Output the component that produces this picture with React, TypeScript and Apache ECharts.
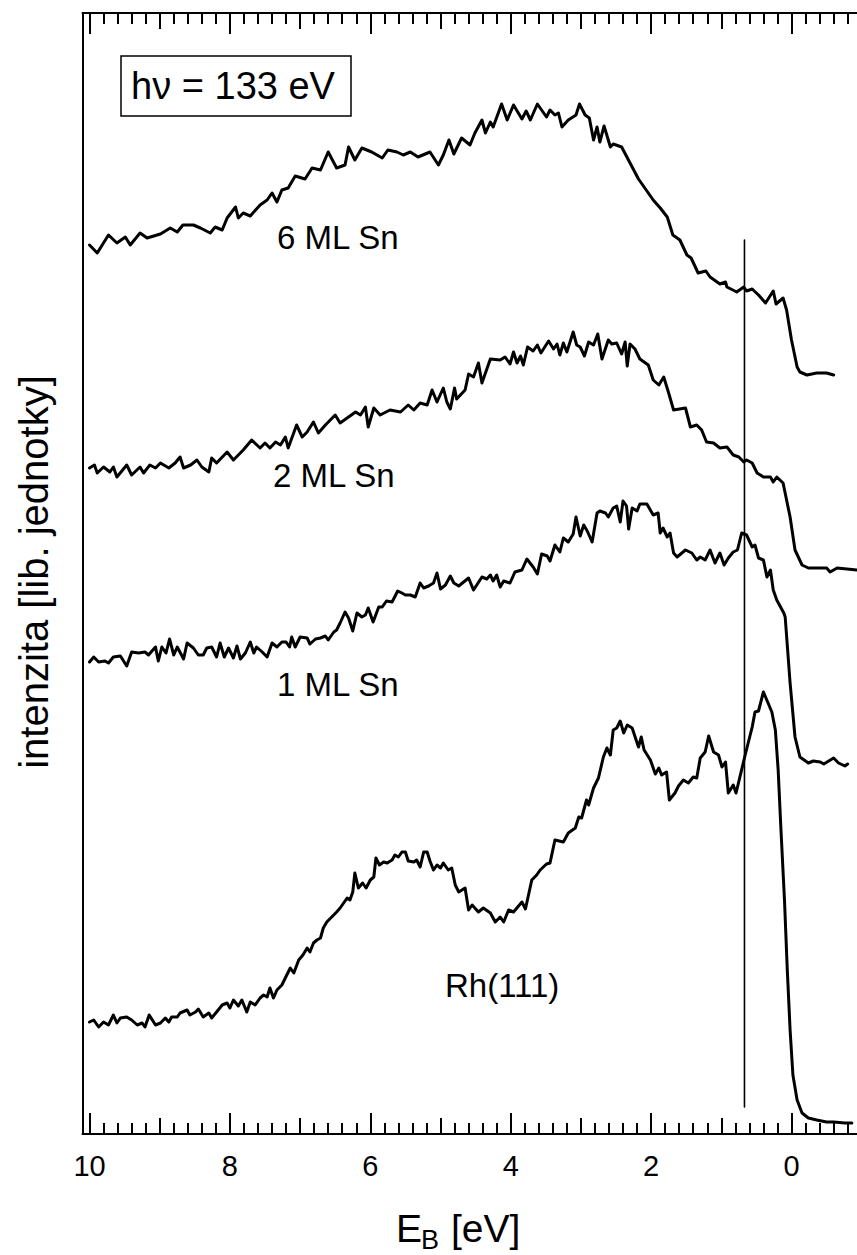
import React, { useEffect, useRef } from "react";
import * as echarts from "echarts";

// Binding energy E_B [eV] vs. intensity (arb. units, curves already offset as plotted)
const sn6ML: [number, number][] = [
  [10.0, 88.9], [9.89, 88.1], [9.73, 89.9], [9.61, 89.1], [9.49, 89.7], [9.42, 88.9], [9.28, 90.1], [9.18, 89.6],
  [8.99, 90.0], [8.85, 90.6], [8.75, 90.2], [8.67, 90.9], [8.52, 90.9], [8.42, 90.6], [8.28, 90.1], [8.21, 90.7],
  [8.11, 90.4], [8.04, 91.6], [7.92, 92.7], [7.88, 91.6], [7.81, 92.1], [7.71, 91.8], [7.57, 92.9], [7.47, 93.4],
  [7.4, 94.1], [7.33, 93.2], [7.26, 94.4], [7.17, 94.6], [7.07, 95.8], [6.93, 95.5], [6.83, 96.6], [6.71, 96.4],
  [6.6, 98.2], [6.48, 96.6], [6.36, 96.9], [6.31, 98.7], [6.22, 97.4], [6.12, 98.6], [5.98, 98.2], [5.83, 97.6],
  [5.75, 98.4], [5.62, 98.2], [5.53, 97.9], [5.43, 98.2], [5.32, 97.7], [5.15, 98.2], [5.03, 96.9], [4.96, 97.9],
  [4.88, 99.4], [4.81, 98.0], [4.7, 99.6], [4.58, 98.9], [4.51, 100.1], [4.41, 101.4], [4.36, 100.1], [4.29, 101.2],
  [4.25, 100.7], [4.13, 103.0], [4.05, 101.4], [3.96, 102.9], [3.84, 101.5], [3.78, 102.3], [3.72, 101.4], [3.62, 103.0],
  [3.49, 101.7], [3.44, 102.4], [3.37, 101.9], [3.32, 102.1], [3.27, 100.7], [3.18, 101.4], [3.07, 101.9], [3.02, 103.0],
  [2.94, 101.9], [2.88, 101.6], [2.82, 99.4], [2.77, 100.7], [2.73, 99.2], [2.67, 100.8], [2.58, 98.7], [2.54, 99.0],
  [2.42, 98.7], [2.3, 97.1], [2.18, 95.5], [2.07, 94.4], [1.97, 93.4], [1.87, 92.6], [1.77, 91.7], [1.69, 89.9],
  [1.59, 89.4], [1.49, 87.9], [1.43, 87.6], [1.33, 86.1], [1.22, 86.3], [1.16, 85.7], [1.02, 85.0], [0.94, 85.2],
  [0.92, 84.7], [0.78, 84.2], [0.68, 84.7], [0.64, 84.3], [0.56, 84.5], [0.47, 83.9], [0.37, 83.1], [0.26, 84.3],
  [0.22, 83.0], [0.12, 83.6], [0.07, 82.4], [0.0, 79.4], [-0.08, 76.7], [-0.12, 76.2], [-0.22, 75.9], [-0.36, 76.1],
  [-0.5, 76.1], [-0.6, 75.9],
];

const sn2ML: [number, number][] = [
  [10.0, 66.6], [9.93, 66.9], [9.89, 66.1], [9.8, 66.7], [9.71, 66.2], [9.66, 66.7], [9.61, 65.7], [9.47, 66.9],
  [9.4, 65.9], [9.28, 66.7], [9.23, 66.1], [9.14, 66.9], [9.06, 66.6], [8.99, 67.1], [8.87, 66.6], [8.78, 67.1],
  [8.71, 67.7], [8.66, 66.6], [8.56, 66.9], [8.47, 67.4], [8.4, 66.7], [8.3, 66.2], [8.26, 67.6], [8.19, 67.1],
  [8.04, 68.2], [7.95, 67.4], [7.81, 68.4], [7.69, 69.4], [7.57, 68.6], [7.5, 69.1], [7.43, 68.6], [7.35, 69.2],
  [7.28, 68.9], [7.21, 69.7], [7.17, 68.6], [7.05, 70.9], [6.97, 69.7], [6.9, 70.2], [6.81, 71.2], [6.74, 70.1],
  [6.64, 70.9], [6.57, 71.4], [6.5, 71.9], [6.43, 71.1], [6.33, 71.6], [6.21, 72.2], [6.14, 71.9], [6.07, 72.7],
  [6.03, 70.7], [5.95, 72.6], [5.86, 71.9], [5.72, 72.4], [5.57, 72.2], [5.46, 72.9], [5.38, 72.4], [5.29, 73.1],
  [5.19, 72.9], [5.12, 74.4], [5.05, 73.2], [4.96, 74.6], [4.91, 73.2], [4.86, 72.5], [4.8, 74.6], [4.77, 73.5],
  [4.65, 74.4], [4.6, 76.0], [4.53, 75.7], [4.46, 77.1], [4.41, 75.1], [4.29, 77.5], [4.15, 77.4], [4.08, 77.7],
  [4.01, 77.0], [3.96, 78.2], [3.91, 77.1], [3.86, 77.8], [3.82, 76.9], [3.76, 78.7], [3.68, 78.3], [3.62, 78.9],
  [3.57, 78.1], [3.46, 79.3], [3.39, 78.5], [3.34, 79.0], [3.3, 77.9], [3.25, 79.1], [3.2, 78.2], [3.11, 80.2],
  [3.06, 78.9], [3.01, 78.7], [2.95, 77.8], [2.89, 79.2], [2.82, 78.9], [2.76, 80.0], [2.7, 77.5], [2.61, 79.4],
  [2.56, 79.0], [2.49, 79.1], [2.42, 78.0], [2.37, 79.2], [2.34, 76.8], [2.3, 79.0], [2.23, 78.5], [2.16, 77.5],
  [2.04, 76.9], [1.97, 75.4], [1.89, 74.9], [1.82, 75.7], [1.75, 74.1], [1.68, 72.4], [1.51, 72.6], [1.44, 70.7],
  [1.35, 70.9], [1.28, 70.4], [1.21, 69.2], [1.11, 69.1], [1.02, 68.6], [0.92, 68.7], [0.83, 67.9], [0.75, 67.7],
  [0.68, 67.2], [0.64, 67.4], [0.56, 67.1], [0.49, 66.1], [0.4, 65.7], [0.3, 65.7], [0.26, 65.2], [0.21, 65.7],
  [0.12, 65.1], [0.02, 61.7], [-0.05, 58.4], [-0.15, 56.9], [-0.24, 56.6], [-0.36, 56.6], [-0.5, 56.6], [-0.55, 56.2],
  [-0.65, 56.6], [-0.79, 56.5], [-0.93, 56.4],
];

const sn1ML: [number, number][] = [
  [10.0, 47.2], [9.94, 47.7], [9.87, 47.2], [9.78, 47.3], [9.73, 47.1], [9.66, 47.7], [9.56, 47.8], [9.47, 46.8],
  [9.4, 48.2], [9.3, 48.1], [9.21, 48.2], [9.16, 47.9], [9.06, 48.7], [9.02, 47.3], [8.97, 48.7], [8.91, 48.1],
  [8.86, 49.5], [8.8, 47.9], [8.75, 48.7], [8.66, 47.5], [8.61, 49.1], [8.52, 48.6], [8.45, 47.9], [8.38, 47.9],
  [8.33, 48.6], [8.26, 48.7], [8.19, 47.7], [8.14, 49.1], [8.08, 47.7], [8.02, 48.6], [7.95, 47.6], [7.9, 48.8],
  [7.85, 47.5], [7.78, 48.1], [7.71, 49.2], [7.66, 48.1], [7.62, 48.7], [7.54, 48.2], [7.47, 47.7], [7.4, 49.1],
  [7.33, 48.7], [7.26, 49.2], [7.2, 49.2], [7.15, 48.7], [7.12, 49.7], [7.07, 48.7], [7.0, 49.7], [6.9, 49.6],
  [6.86, 49.0], [6.78, 49.5], [6.71, 49.6], [6.64, 49.8], [6.6, 49.4], [6.52, 50.2], [6.48, 50.4], [6.43, 51.1],
  [6.36, 52.2], [6.31, 51.6], [6.25, 50.3], [6.19, 52.1], [6.12, 51.7], [6.07, 51.9], [6.03, 52.6], [5.96, 51.2],
  [5.88, 52.7], [5.83, 52.7], [5.77, 53.3], [5.69, 53.2], [5.61, 54.3], [5.55, 54.1], [5.5, 53.9], [5.43, 53.9],
  [5.36, 53.7], [5.29, 55.1], [5.24, 54.6], [5.17, 54.8], [5.1, 55.1], [5.05, 56.1], [5.0, 54.5], [4.93, 54.9],
  [4.86, 55.8], [4.81, 55.1], [4.74, 54.8], [4.67, 55.2], [4.6, 55.6], [4.53, 54.4], [4.41, 55.7], [4.34, 55.5],
  [4.29, 55.9], [4.25, 55.3], [4.2, 55.9], [4.15, 54.7], [4.1, 55.3], [4.01, 55.1], [3.94, 56.2], [3.84, 56.4],
  [3.77, 57.5], [3.68, 56.7], [3.62, 56.0], [3.56, 58.0], [3.48, 57.8], [3.44, 57.3], [3.37, 58.9], [3.3, 58.2],
  [3.25, 59.6], [3.18, 59.2], [3.11, 60.0], [3.07, 61.7], [3.01, 59.8], [2.96, 60.9], [2.91, 60.3], [2.84, 59.2],
  [2.77, 62.1], [2.73, 62.3], [2.65, 62.1], [2.61, 61.7], [2.54, 62.6], [2.49, 62.8], [2.44, 61.2], [2.4, 63.3],
  [2.35, 62.8], [2.32, 60.5], [2.27, 62.6], [2.2, 62.3], [2.16, 63.0], [2.06, 63.0], [1.97, 61.9], [1.9, 62.1],
  [1.87, 60.1], [1.83, 60.6], [1.77, 59.7], [1.73, 60.1], [1.68, 58.1], [1.63, 57.7], [1.51, 58.4], [1.42, 58.1],
  [1.35, 57.4], [1.3, 57.7], [1.23, 57.4], [1.16, 58.4], [1.09, 57.1], [1.02, 58.1], [0.96, 56.9], [0.9, 57.6],
  [0.83, 58.2], [0.77, 58.4], [0.71, 60.1], [0.64, 59.9], [0.56, 58.7], [0.52, 58.9], [0.47, 57.6], [0.4, 57.4],
  [0.35, 55.7], [0.3, 56.4], [0.26, 54.4], [0.21, 53.4], [0.11, 52.1], [0.09, 51.7], [0.02, 45.1], [-0.05, 39.7],
  [-0.12, 37.7], [-0.24, 37.1], [-0.31, 37.3], [-0.41, 37.2], [-0.46, 37.0], [-0.53, 37.3], [-0.6, 37.6], [-0.67, 37.1],
  [-0.76, 36.8], [-0.8, 37.0],
];

const rh111: [number, number][] = [
  [10.0, 11.2], [9.94, 11.4], [9.87, 10.7], [9.8, 11.2], [9.73, 10.9], [9.66, 11.9], [9.61, 11.1], [9.56, 11.6],
  [9.47, 11.7], [9.4, 11.4], [9.32, 10.9], [9.25, 11.1], [9.21, 10.7], [9.15, 11.9], [9.06, 10.9], [8.99, 11.1],
  [8.92, 11.6], [8.87, 11.2], [8.83, 11.7], [8.75, 11.7], [8.71, 12.1], [8.61, 12.4], [8.57, 11.9], [8.49, 12.2],
  [8.45, 12.5], [8.38, 11.7], [8.3, 12.1], [8.26, 11.6], [8.19, 12.2], [8.11, 12.9], [8.04, 13.1], [8.0, 12.6],
  [7.95, 13.4], [7.88, 12.8], [7.83, 13.4], [7.76, 12.2], [7.71, 13.2], [7.64, 12.9], [7.57, 13.6], [7.52, 13.9],
  [7.47, 13.7], [7.43, 14.6], [7.38, 13.6], [7.33, 14.4], [7.26, 14.9], [7.19, 15.9], [7.14, 16.6], [7.09, 16.1],
  [7.02, 17.4], [6.96, 17.9], [6.9, 18.6], [6.86, 18.2], [6.81, 19.1], [6.76, 19.4], [6.71, 19.6], [6.67, 20.6],
  [6.62, 21.2], [6.55, 21.7], [6.48, 22.2], [6.43, 22.6], [6.38, 23.1], [6.33, 23.6], [6.29, 23.4], [6.25, 24.2],
  [6.22, 26.1], [6.17, 24.6], [6.11, 25.1], [6.06, 24.6], [6.0, 25.4], [5.95, 25.7], [5.92, 27.6], [5.87, 26.9],
  [5.81, 27.2], [5.76, 27.1], [5.69, 27.4], [5.65, 27.9], [5.6, 27.7], [5.55, 28.2], [5.5, 28.2], [5.46, 27.3],
  [5.38, 27.2], [5.34, 27.4], [5.29, 26.7], [5.24, 28.2], [5.19, 28.2], [5.15, 27.3], [5.1, 26.4], [5.05, 26.9],
  [5.0, 26.6], [4.96, 27.1], [4.89, 26.4], [4.84, 26.6], [4.79, 24.9], [4.74, 24.2], [4.65, 24.6], [4.6, 22.4],
  [4.55, 22.9], [4.46, 22.2], [4.39, 22.6], [4.29, 22.1], [4.22, 21.2], [4.15, 21.7], [4.1, 21.2], [4.03, 22.4],
  [3.96, 22.2], [3.84, 23.2], [3.79, 22.5], [3.7, 25.4], [3.63, 25.9], [3.58, 26.4], [3.49, 27.0], [3.44, 27.1],
  [3.37, 29.4], [3.25, 29.2], [3.18, 30.1], [3.08, 30.6], [3.03, 31.7], [2.99, 31.6], [2.92, 33.4], [2.89, 32.9],
  [2.82, 34.6], [2.75, 35.6], [2.68, 37.7], [2.63, 38.6], [2.58, 37.9], [2.54, 40.4], [2.49, 40.6], [2.44, 41.3],
  [2.39, 40.1], [2.34, 40.9], [2.27, 40.6], [2.18, 38.7], [2.14, 39.7], [2.1, 38.4], [2.01, 37.4], [1.94, 36.0],
  [1.89, 36.6], [1.85, 35.9], [1.78, 36.2], [1.74, 33.4], [1.66, 34.1], [1.61, 34.8], [1.54, 35.4], [1.47, 35.1],
  [1.4, 35.7], [1.35, 35.6], [1.3, 37.6], [1.23, 38.2], [1.18, 39.8], [1.11, 38.2], [1.04, 37.9], [0.99, 36.7],
  [0.94, 37.2], [0.9, 34.1], [0.83, 34.9], [0.79, 34.1], [0.66, 37.9], [0.56, 40.7], [0.52, 42.2], [0.47, 42.3],
  [0.4, 44.2], [0.28, 42.2], [0.23, 40.4], [0.19, 36.4], [0.15, 30.4], [0.1, 23.4], [0.06, 16.4], [0.02, 10.4],
  [-0.02, 5.9], [-0.08, 3.4], [-0.15, 2.1], [-0.24, 1.6], [-0.36, 1.4], [-0.5, 1.2], [-0.6, 1.2], [-0.76, 1.1],
  [-0.86, 1.1],
];

const fermiMarker: [number, number][] = [[0.67, 89.4], [0.67, 2.7]];

const curveLabels = ["6 ML Sn", "2 ML Sn", "1 ML Sn", "Rh(111)"];
const photonLabel = "hν = 133 eV";
const xTitleMain = "E";
const xTitleSub = "B";
const xTitleUnit = "[eV]";
const yTitle = "intenzita [lib. jednotky]";

const FONT = "Liberation Sans";

export default function App() {
  const ref = useRef<HTMLDivElement>(null);

  useEffect(() => {
    if (!ref.current) return;
    const chart = echarts.init(ref.current, undefined, { renderer: "svg" });

    const xBase = {
      type: "value" as const,
      min: -2,
      max: 10.1,
      inverse: true,
      splitLine: { show: false },
    };
    const mkX = (position: "top" | "bottom", interval: number, len: number, main: boolean) => ({
      ...xBase,
      position,
      interval,
      axisLine: { show: main, onZero: false, lineStyle: { color: "#000", width: 2 } },
      axisTick: { show: true, inside: true, length: len, lineStyle: { color: "#000", width: 2 } },
      axisLabel: main && position === "bottom"
        ? {
            show: true,
            margin: 17,
            color: "#000",
            fontFamily: FONT,
            fontSize: 29,
            formatter: (v: number) =>
              v >= 0 && Math.abs(v - Math.round(v)) < 1e-6 ? String(Math.round(v)) : "",
          }
        : { show: false },
    });

    const lineSeries = (name: string, data: [number, number][], width: number) => ({
      name,
      type: "line" as const,
      xAxisIndex: 0,
      yAxisIndex: 0,
      data,
      showSymbol: false,
      symbol: "none",
      silent: true,
      lineStyle: { color: "#000", width, join: "round", cap: "round" },
      z: 3,
    });

    const textStyle = (text: string, size: number, align = "left") => ({
      text,
      fill: "#000",
      fontFamily: FONT,
      fontSize: size,
      align,
      textAlign: align,
      verticalAlign: "middle",
      textVerticalAlign: "middle",
    });

    chart.setOption({
      animation: false,
      backgroundColor: "#fff",
      grid: { left: 82.5, right: 28.1, top: 13, bottom: 121, containLabel: false },
      xAxis: [
        mkX("bottom", 2, 21, true),
        mkX("bottom", 1, 16, false),
        mkX("bottom", 0.2, 11, false),
        mkX("top", 2, 21, true),
        mkX("top", 1, 16, false),
        mkX("top", 0.2, 11, false),
      ],
      yAxis: {
        type: "value",
        min: 0,
        max: 112.1,
        position: "left",
        axisLine: { show: true, onZero: false, lineStyle: { color: "#000", width: 2 } },
        axisTick: { show: false },
        axisLabel: { show: false },
        splitLine: { show: false },
      },
      series: [
        lineSeries("6 ML Sn", sn6ML, 3),
        lineSeries("2 ML Sn", sn2ML, 3),
        lineSeries("1 ML Sn", sn1ML, 3),
        lineSeries("Rh(111)", rh111, 3),
        lineSeries("E_F marker", fermiMarker, 1.6),
      ],
      graphic: [
        { type: "rect", shape: { x: 121, y: 56, width: 230, height: 60 }, style: { fill: "none", stroke: "#000", lineWidth: 1.5 } },
        { type: "text", x: 233, y: 86, style: textStyle(photonLabel, 38, "center") },
        { type: "text", x: 277, y: 237, style: textStyle(curveLabels[0], 33) },
        { type: "text", x: 273, y: 475, style: textStyle(curveLabels[1], 33) },
        { type: "text", x: 277, y: 684, style: textStyle(curveLabels[2], 33) },
        { type: "text", x: 445, y: 985, style: textStyle(curveLabels[3], 33) },
        { type: "text", x: 396, y: 1228, style: textStyle(xTitleMain, 39) },
        { type: "text", x: 421, y: 1240, style: textStyle(xTitleSub, 27) },
        { type: "text", x: 451, y: 1228, style: textStyle(xTitleUnit, 39) },
        { type: "text", x: 34, y: 572, rotation: Math.PI / 2, style: textStyle(yTitle, 40, "center") },
      ],
    });

    return () => chart.dispose();
  }, []);

  return (
    <div style={{ position: "absolute", left: 0, top: 0, width: 857, height: 1255, overflow: "hidden", background: "#fff" }}>
      <div ref={ref} style={{ width: 960, height: 1255 }} />
    </div>
  );
}
